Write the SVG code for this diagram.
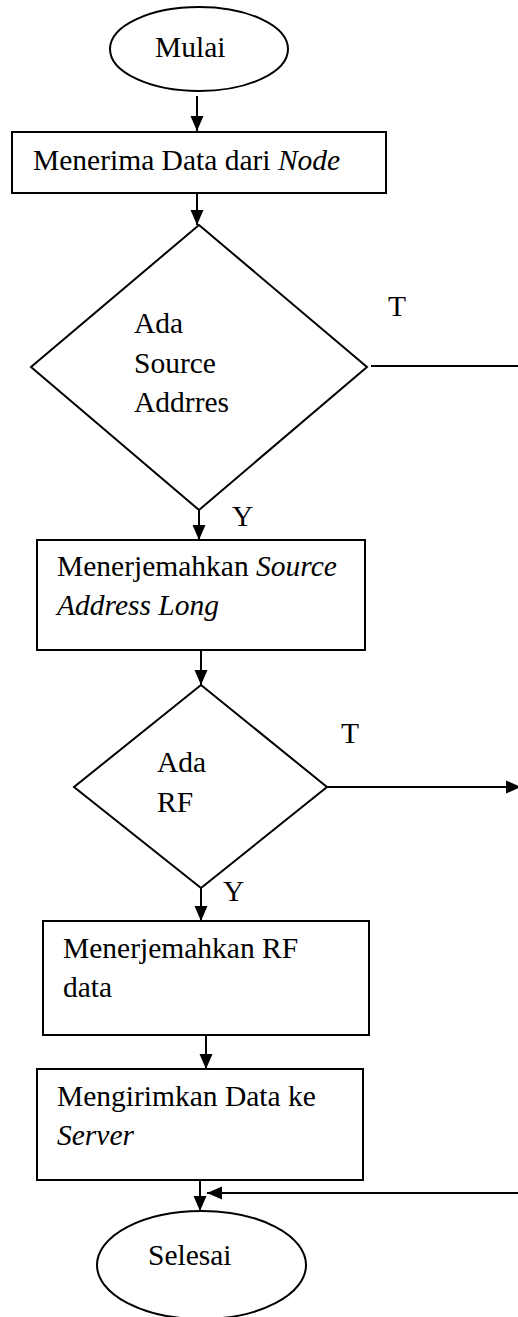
<svg xmlns="http://www.w3.org/2000/svg" width="518" height="1317" viewBox="0 0 518 1317">
  <style>
    .shape { fill: #fff; stroke: #000; stroke-width: 2; }
    .line { fill: none; stroke: #000; stroke-width: 2; }
    text { font-family: 'Liberation Serif', 'Times New Roman', Tinos, 'DejaVu Serif', serif; font-size: 29.5px; fill: #000; }
    .it { font-style: italic; }
  </style>
  <defs>
    <marker id="arrow" markerWidth="16" markerHeight="16" refX="15" refY="7.5" orient="auto" markerUnits="userSpaceOnUse">
      <path d="M0,1 L15,7.5 L0,14 Z" fill="#000"/>
    </marker>
  </defs>

  <g id="connectors">
    <line class="line" x1="197" y1="96" x2="197" y2="131" marker-end="url(#arrow)"/>
    <line class="line" x1="197" y1="193" x2="197" y2="225" marker-end="url(#arrow)"/>
    <line class="line" x1="199" y1="510" x2="199" y2="540" marker-end="url(#arrow)"/>
    <line class="line" x1="371" y1="366" x2="518" y2="366"/>
    <line class="line" x1="201" y1="650" x2="201" y2="685" marker-end="url(#arrow)"/>
    <line class="line" x1="327" y1="787" x2="521" y2="787" marker-end="url(#arrow)"/>
    <line class="line" x1="201" y1="888" x2="201" y2="921" marker-end="url(#arrow)"/>
    <line class="line" x1="206" y1="1035" x2="206" y2="1069" marker-end="url(#arrow)"/>
    <line class="line" x1="200" y1="1180" x2="200" y2="1211" marker-end="url(#arrow)"/>
    <line class="line" x1="518" y1="1193" x2="207" y2="1193" marker-end="url(#arrow)"/>
    <text x="388" y="316">T</text>
    <text x="232" y="526">Y</text>
    <text x="341" y="743">T</text>
    <text x="223" y="901">Y</text>
  </g>

  <g id="start">
    <ellipse class="shape" cx="199" cy="49" rx="89" ry="42"/>
    <text x="155" y="57">Mulai</text>
  </g>

  <g id="receive">
    <rect class="shape" x="12" y="132" width="374" height="61"/>
    <text x="33" y="170">Menerima Data dari <tspan class="it">Node</tspan></text>
  </g>

  <g id="check-source">
    <polygon class="shape" points="199,225 367,367 199,510 31,367"/>
    <text x="134" y="333">Ada</text>
    <text x="134" y="373">Source</text>
    <text x="134" y="412">Addrres</text>
  </g>

  <g id="translate-source">
    <rect class="shape" x="37" y="540" width="328" height="110"/>
    <text x="57" y="576">Menerjemahkan <tspan class="it">Source</tspan></text>
    <text x="57" y="615" class="it">Address Long</text>
  </g>

  <g id="check-rf">
    <polygon class="shape" points="201,685 327,787 201,888 74,787"/>
    <text x="157" y="772">Ada</text>
    <text x="157" y="812">RF</text>
  </g>

  <g id="translate-rf">
    <rect class="shape" x="43" y="921" width="326" height="114"/>
    <text x="63" y="958">Menerjemahkan RF</text>
    <text x="63" y="997">data</text>
  </g>

  <g id="send">
    <rect class="shape" x="37" y="1069" width="326" height="111"/>
    <text x="57" y="1106">Mengirimkan Data ke</text>
    <text x="57" y="1145" class="it">Server</text>
  </g>

  <g id="end">
    <ellipse class="shape" cx="201.5" cy="1265" rx="104.5" ry="54"/>
    <text x="148" y="1265">Selesai</text>
  </g>
</svg>
